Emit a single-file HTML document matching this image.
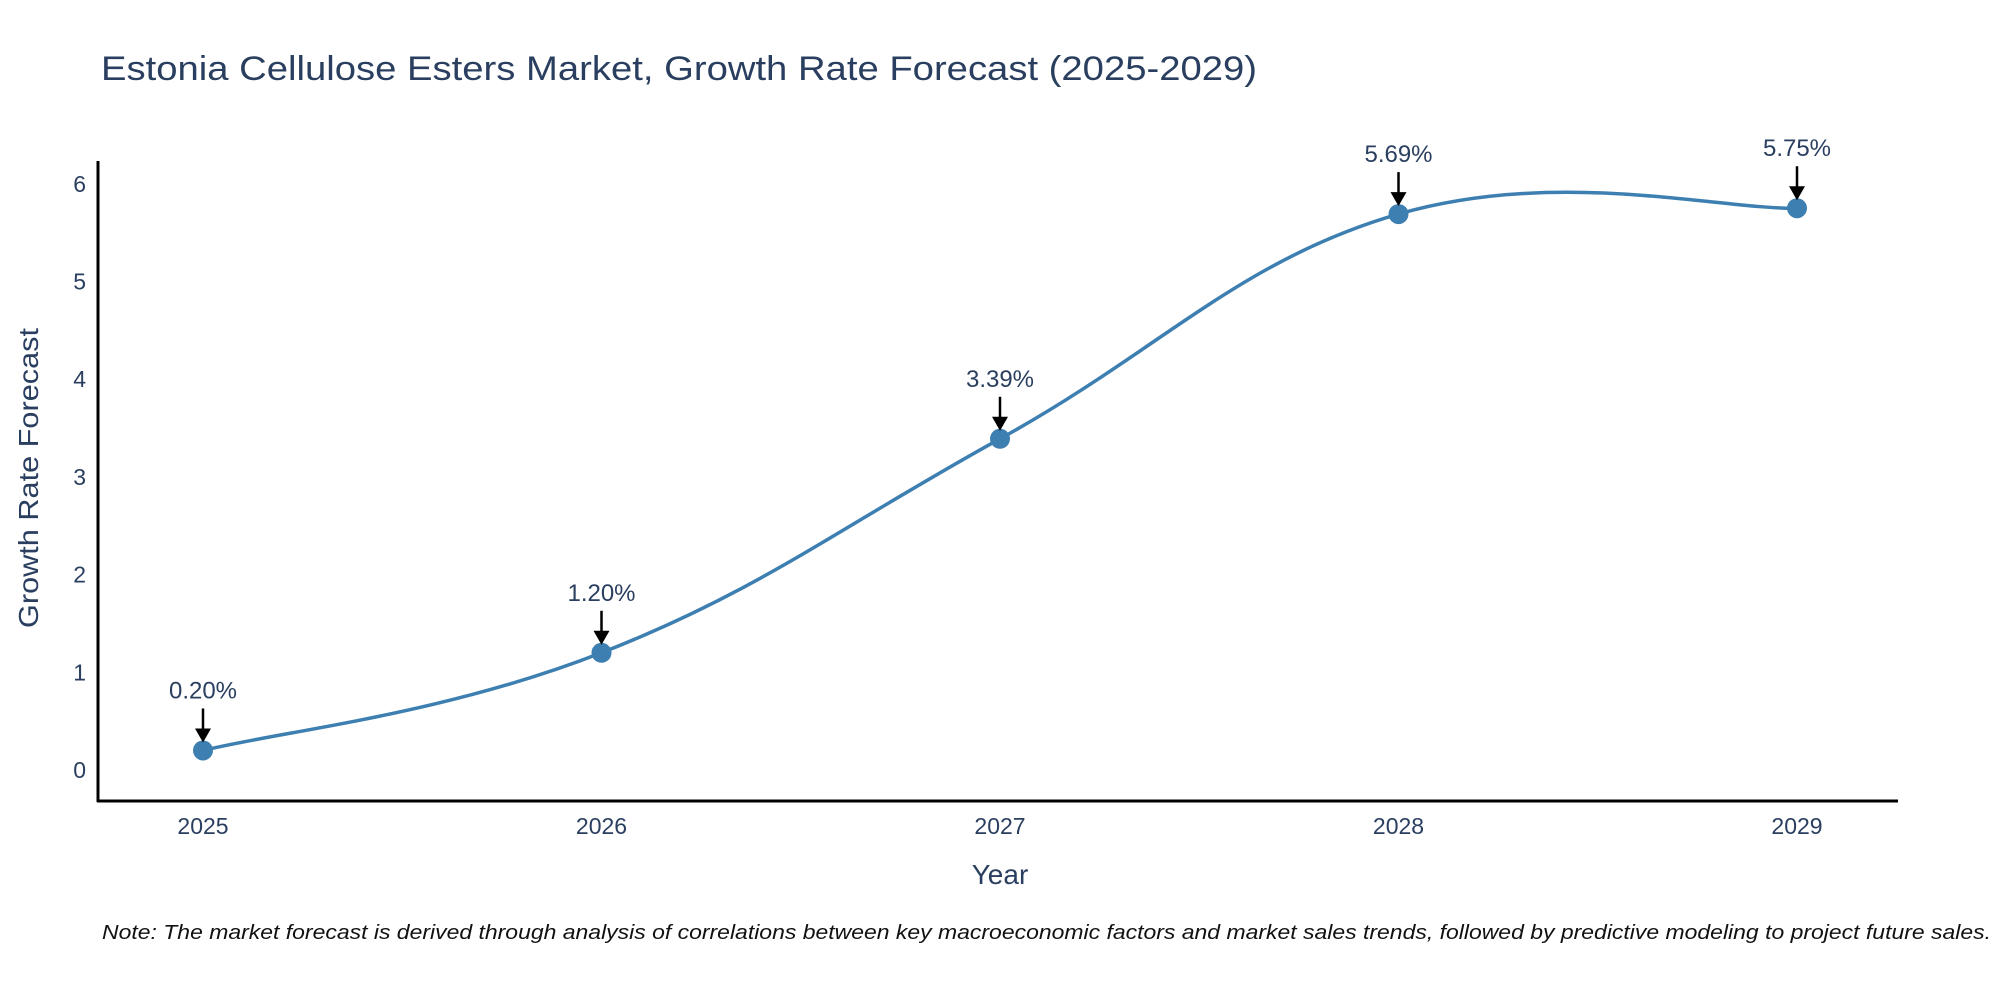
<!DOCTYPE html>
<html><head><meta charset="utf-8"><style>
html,body{margin:0;padding:0;background:#fff;}
text{font-family:"Liberation Sans",sans-serif;}
</style></head><body>
<svg id="chart" width="2000" height="1000" xmlns="http://www.w3.org/2000/svg">
<text x="101" y="80" font-size="34" fill="#2a3f5f" textLength="1156" lengthAdjust="spacingAndGlyphs">Estonia Cellulose Esters Market, Growth Rate Forecast (2025-2029)</text>
<g id="yticks"></g><g id="xticks"></g>
<line x1="98" y1="161" x2="98" y2="802" stroke="#000" stroke-width="3"/>
<line x1="97" y1="801" x2="1898" y2="801" stroke="#000" stroke-width="3"/>
<path id="line" fill="none" stroke="#3d7fb1" stroke-width="3.5"/>
<g id="points"></g><g id="annots"></g>
<text transform="translate(38,478) rotate(-90)" text-anchor="middle" font-size="28" fill="#2a3f5f" textLength="300" lengthAdjust="spacingAndGlyphs">Growth Rate Forecast</text>
<text x="1000" y="884" text-anchor="middle" font-size="28" fill="#2a3f5f">Year</text>
<text x="102" y="939" font-size="20" font-style="italic" fill="#111" textLength="1889" lengthAdjust="spacingAndGlyphs">Note: The market forecast is derived through analysis of correlations between key macroeconomic factors and market sales trends, followed by predictive modeling to project future sales.</text>
</svg>
<script>
const years=[2025,2026,2027,2028,2029];
const values=[0.20,1.20,3.39,5.69,5.75];
const labels=["0.20%","1.20%","3.39%","5.69%","5.75%"];
const yTicks=[0,1,2,3,4,5,6];
const NS="http://www.w3.org/2000/svg";
function X(yr){return 203+(yr-2025)*398.5;}
function Y(v){return 770-v*97.7;}
function mk(tag,attrs,parent){const e=document.createElementNS(NS,tag);for(const k in attrs)e.setAttribute(k,attrs[k]);document.getElementById(parent).appendChild(e);return e;}
yTicks.forEach(t=>{const e=mk('text',{x:86,y:Y(t)+8,'text-anchor':'end','font-size':23,fill:'#2a3f5f'},'yticks');


e.textContent=t;});
years.forEach(yr=>{const e=mk('text',{x:X(yr),y:834,'text-anchor':'middle','font-size':23,fill:'#2a3f5f'},'xticks');


e.textContent=yr;});
const pts=years.map((yr,i)=>[X(yr),Y(values[i])]);
let d='M'+pts[0][0]+','+pts[0][1];
const s=0.2;
for(let i=0;i<pts.length-1;i++){const p0=pts[Math.max(0,i-1)],p1=pts[i],p2=pts[i+1],p3=pts[Math.min(pts.length-1,i+2)];
const c1=[p1[0]+(p2[0]-p0[0])*s,p1[1]+(p2[1]-p0[1])*s];
const c2=[p2[0]-(p3[0]-p1[0])*s,p2[1]-(p3[1]-p1[1])*s];
d+=` C${c1[0]},${c1[1]} ${c2[0]},${c2[1]} ${p2[0]},${p2[1]}`;}
document.getElementById('line').setAttribute('d',d);
pts.forEach((p,i)=>{const c=mk('circle',{cx:p[0],cy:p[1],r:10,fill:'#3d7fb1'},'points');


const l=mk('line',{x1:p[0],y1:p[1]-42,x2:p[0],y2:p[1]-20,stroke:'#000','stroke-width':2.5},'annots');


const h=mk('polygon',{points:`${p[0]-8},${p[1]-22} ${p[0]+8},${p[1]-22} ${p[0]},${p[1]-8}`,fill:'#000'},'annots');


const t=mk('text',{x:p[0],y:p[1]-52,'text-anchor':'middle','font-size':24,fill:'#2a3f5f'},'annots');


t.textContent=labels[i];});
</script>
</body></html>
